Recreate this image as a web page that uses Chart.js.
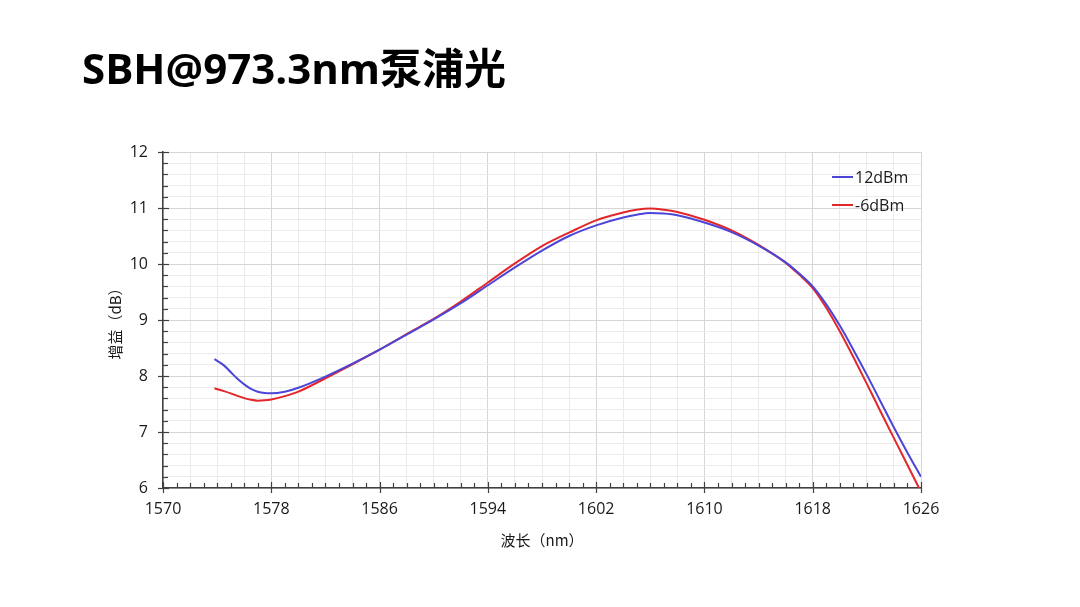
<!DOCTYPE html>
<html><head><meta charset="utf-8">
<script src="https://cdn.jsdelivr.net/npm/chart.js@4.4.0/dist/chart.umd.min.js"></script>
<style>
html,body{margin:0;padding:0;background:#fff;width:1080px;height:607px;overflow:hidden;}
#wrap{position:relative;width:1080px;height:607px;}
#title{position:absolute;left:82px;top:46px;font-weight:bold;font-size:42px;font-family:"Open Sans","Noto Sans CJK SC",sans-serif;color:#000;line-height:43px;white-space:nowrap;}
canvas{position:absolute;left:0;top:0;}
</style></head>
<body><div id="wrap"><canvas id="c" width="1080" height="607"></canvas><div id="title">SBH@973.3nm泵浦光</div></div>
<script>
const wavelengths = [1573.8,1574.5,1575,1575.5,1576,1576.5,1577,1577.5,1578,1579,1580,1582,1584,1586,1588,1590,1592,1594,1596,1598,1600,1602,1604,1605,1606,1607,1608,1610,1612,1614,1616,1617,1618,1619,1620,1621,1622,1623,1624,1625,1626];
const gain12dBm = [8.30,8.19,8.07,7.95,7.85,7.77,7.72,7.695,7.69,7.72,7.79,7.99,8.22,8.47,8.74,9.01,9.30,9.62,9.94,10.24,10.50,10.69,10.83,10.88,10.91,10.90,10.87,10.74,10.57,10.33,10.03,9.83,9.60,9.28,8.90,8.47,8.02,7.55,7.08,6.63,6.20];
const gainMinus6dBm = [7.78,7.73,7.69,7.645,7.605,7.575,7.56,7.565,7.58,7.64,7.72,7.96,8.21,8.47,8.75,9.02,9.33,9.67,10.01,10.32,10.56,10.78,10.92,10.97,10.99,10.97,10.93,10.79,10.60,10.34,10.02,9.81,9.57,9.22,8.80,8.34,7.86,7.37,6.89,6.41,5.93];
const seriesLabels = ['12dBm','-6dBm'];
const seriesColors = ['#4b45d8','#e3262a'];
const xTickLabels = [1570,1578,1586,1594,1602,1610,1618,1626];
const yTickLabels = [6,7,8,9,10,11,12];
const xTitle = '波长（nm）';
const yTitle = '增益（dB）';

const FONT = '"Open Sans","Noto Sans CJK SC",sans-serif';
const CJK = '"Noto Sans CJK SC","Open Sans",sans-serif';

const tickMarks = {
  id:'tickMarks',
  afterDraw(chart){
    const {ctx, chartArea:a, scales:{x,y}} = chart;
    ctx.save(); ctx.strokeStyle='#404040'; ctx.lineWidth=1.2;
    x.ticks.forEach(t=>{
      const px = Math.round(x.getPixelForValue(t.value))+0.5;
      const major = xTickLabels.includes(t.value);
      ctx.beginPath(); ctx.moveTo(px, a.bottom + (major?5:0)); ctx.lineTo(px, a.bottom - (major?6:5)); ctx.stroke();
    });
    y.ticks.forEach(t=>{
      const py = Math.round(y.getPixelForValue(t.value))+0.5;
      const major = yTickLabels.includes(t.value);
      ctx.beginPath(); ctx.moveTo(a.left - (major?5:0), py); ctx.lineTo(a.left + (major?6:5), py); ctx.stroke();
    });
    ctx.restore();
  }
};
const innerLegend = {
  id:'innerLegend',
  afterDraw(chart){
    const {ctx, chartArea:a} = chart;
    ctx.save();
    ctx.font = '16px ' + FONT; ctx.textBaseline='middle'; ctx.textAlign='left';
    chart.data.datasets.forEach((ds,i)=>{
      const yy = a.top + 25 + i*28;
      ctx.strokeStyle = ds.borderColor; ctx.lineWidth = 2;
      ctx.beginPath(); ctx.moveTo(a.right-89, yy); ctx.lineTo(a.right-68, yy); ctx.stroke();
      ctx.fillStyle = '#1a1a1a';
      ctx.fillText(ds.label, a.right-66, yy+1);
    });
    ctx.restore();
  }
};

function pts(ys){ return wavelengths.map((x,i)=>({x:x, y:ys[i]})); }

new Chart(document.getElementById('c'), {
  type:'line',
  data:{ datasets:[
    {label:seriesLabels[0], data:pts(gain12dBm), borderColor:seriesColors[0], borderWidth:2, pointRadius:0, cubicInterpolationMode:'monotone', fill:false},
    {label:seriesLabels[1], data:pts(gainMinus6dBm), borderColor:seriesColors[1], borderWidth:2, pointRadius:0, cubicInterpolationMode:'monotone', fill:false}
  ]},
  options:{
    responsive:false, animation:false, devicePixelRatio:1,
    layout:{padding:{left:100,right:159,top:152,bottom:0}},
    plugins:{legend:{display:false}, tooltip:{enabled:false}},
    scales:{
      x:{type:'linear', min:1570, max:1626,
        afterBuildTicks(s){ const t=[]; for(let v=1570; v<=1626; v++) t.push({value:v}); s.ticks=t; },
        afterFit(s){ s.height=119; },
        ticks:{autoSkip:false, maxRotation:0, padding:12, color:'#1a1a1a', font:{family:FONT,size:16},
          callback:(v)=> xTickLabels.includes(v) ? String(v) : ''},
        grid:{drawTicks:false, lineWidth:1,
          color:(c)=>{ const v=c.tick?c.tick.value:0; if(xTickLabels.includes(v)) return '#d6d6d6'; return ((v-1570)%2===0)?'#eaeaea':'rgba(0,0,0,0)'; }},
        border:{color:'#404040', width:1.5},
        title:{display:true, text:xTitle, color:'#1a1a1a', font:{family:CJK,size:15}, padding:{top:0,bottom:58}}
      },
      y:{type:'linear', min:6, max:12,
        afterBuildTicks(s){ const t=[]; for(let k=0;k<=30;k++) t.push({value:Math.round((6+k*0.2)*10)/10}); s.ticks=t; },
        afterFit(s){ s.width=63; },
        ticks:{autoSkip:false, padding:15, color:'#1a1a1a', font:{family:FONT,size:16},
          callback:(v)=> yTickLabels.includes(v) ? String(v) : ''},
        grid:{drawTicks:false, lineWidth:1,
          color:(c)=>{ const v=c.tick?c.tick.value:0; return yTickLabels.includes(v)?'#d6d6d6':'#ebebeb'; }},
        border:{color:'#404040', width:1.5},
        title:{display:true, text:yTitle, color:'#1a1a1a', font:{family:CJK,size:15}, padding:{top:6,bottom:0}}
      }
    }
  },
  plugins:[tickMarks, innerLegend]
});
</script>
</body></html>
